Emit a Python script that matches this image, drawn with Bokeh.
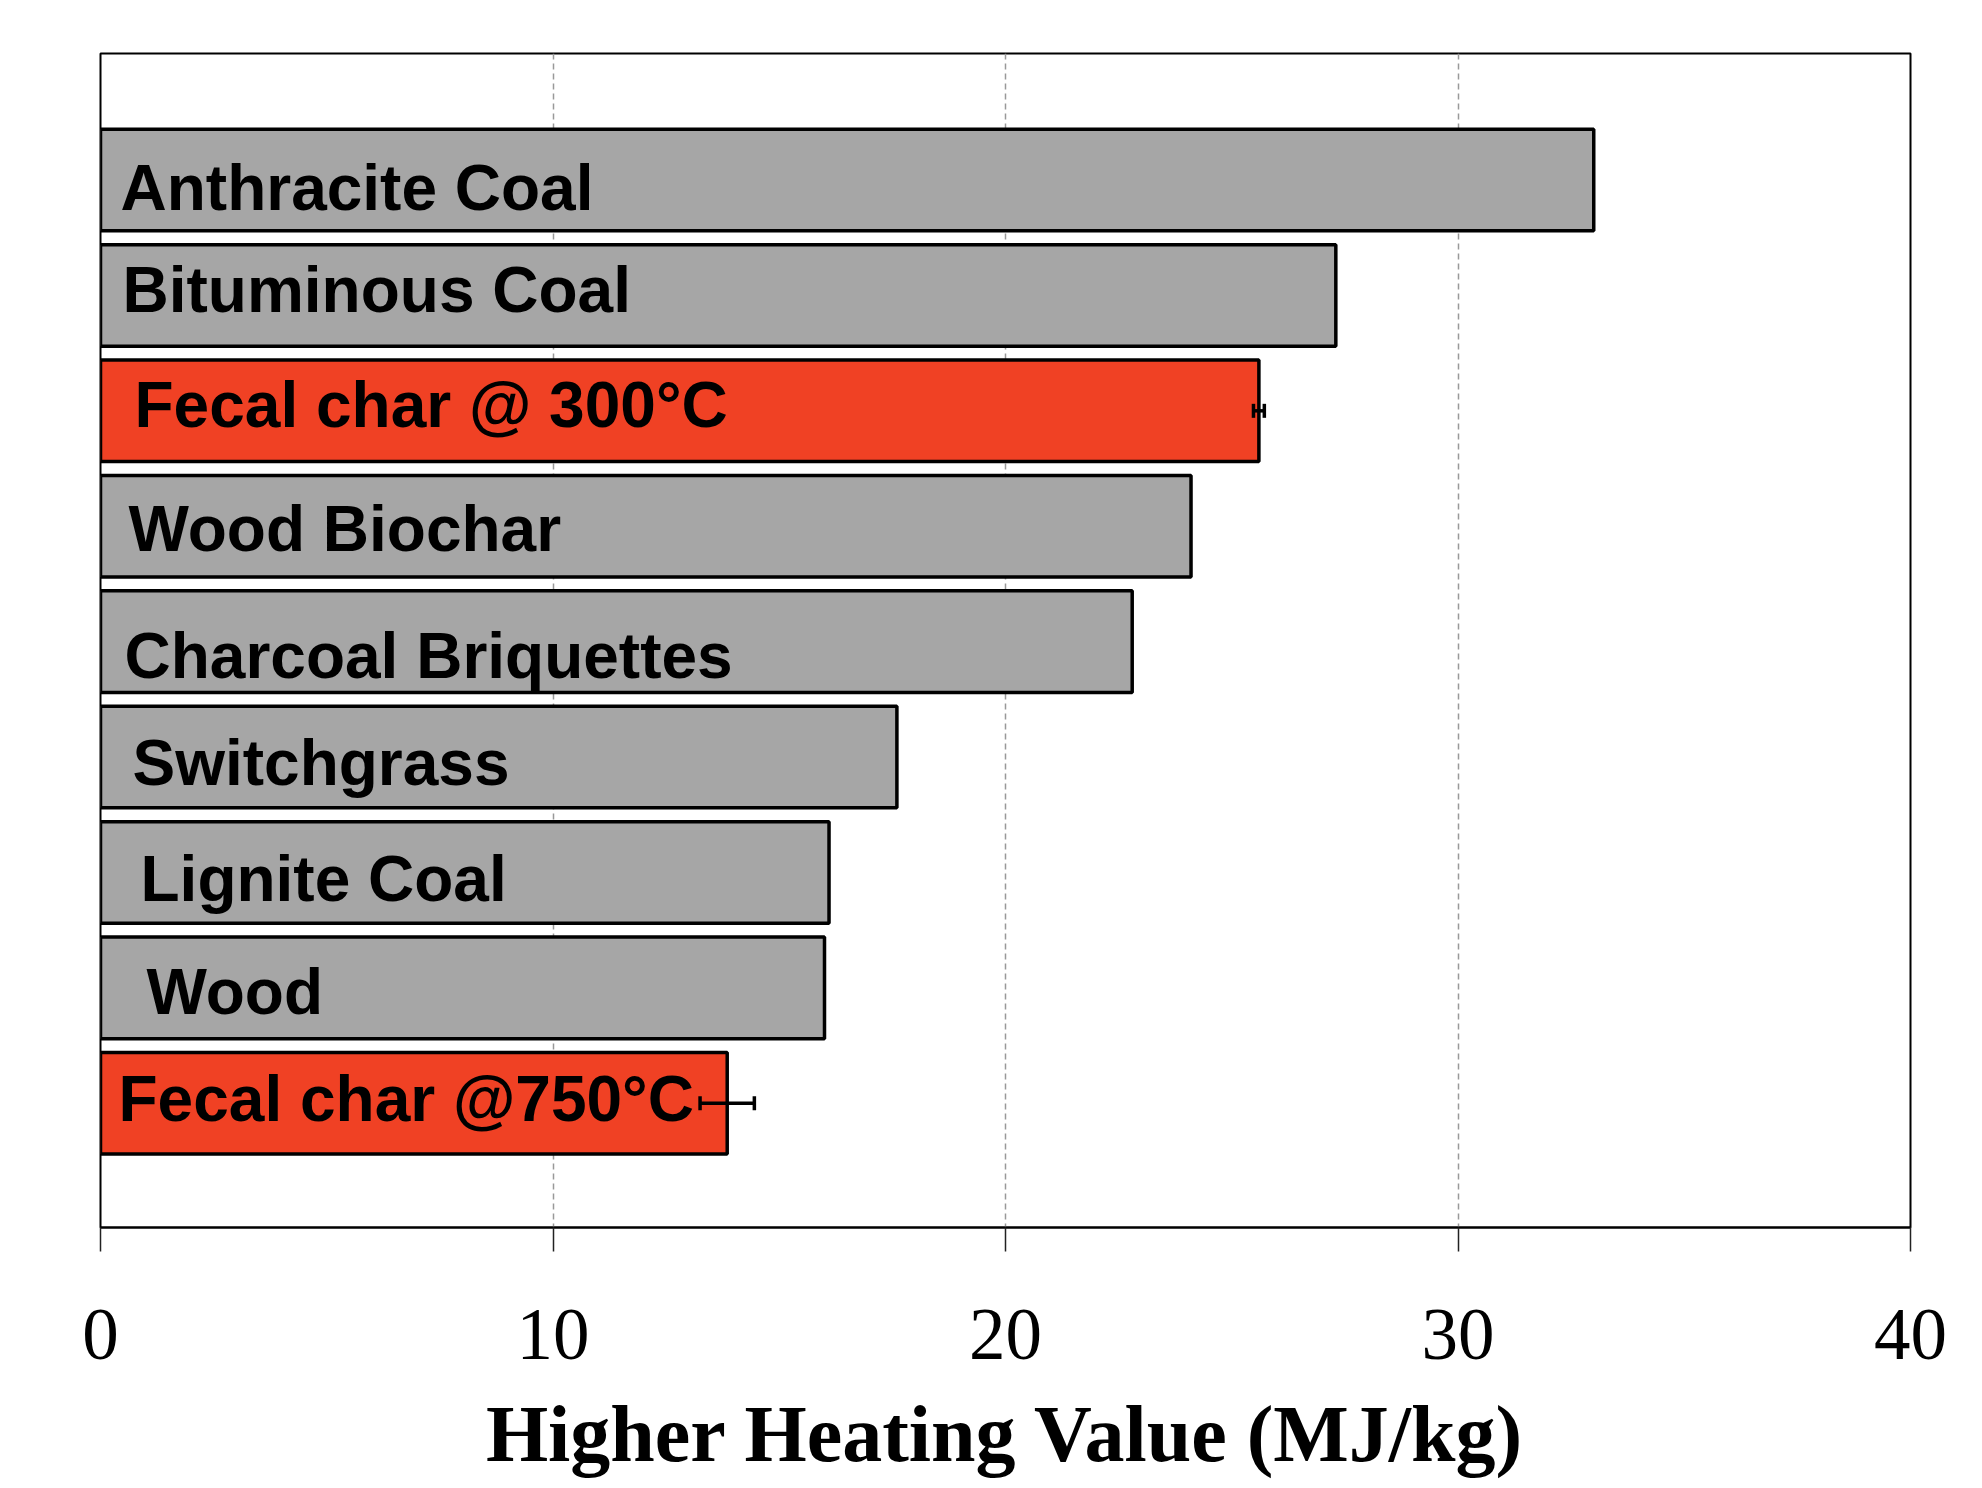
from bokeh.plotting import figure
from bokeh.models import ColumnDataSource, Range1d, FixedTicker, Whisker, TeeHead
from bokeh.core.properties import value
from bokeh.embed import file_html
from bokeh.resources import INLINE

# ---- data (top to bottom) ----
materials = ["Anthracite Coal", "Bituminous Coal", "Fecal char  @ 300\u00b0C", "Wood Biochar",
             "Charcoal Briquettes", "Switchgrass", "Lignite Coal", "Wood", "Fecal char  @750\u00b0C"]
hhv = [33.0, 27.3, 25.6, 24.1, 22.8, 17.6, 16.1, 16.0, 13.85]
is_fecal = [False, False, True, False, False, False, False, False, True]
hhv_err = [0, 0, 0.12, 0, 0, 0, 0, 0, 0.6]
x_ticks = [0, 10, 20, 30, 40]
x_title = "Higher Heating Value (MJ/kg)"

# ---- styling ----
GRAY = "#A6A6A6"
RED = "#F04124"
label_dx = [20, 22, 34, 28, 24, 32, 40, 46, 18]     # px from bar start
label_dy = [8, -5, -6, 3, 14, 6, 7, 4, -4]          # px shift of baseline

idx = list(range(len(materials)))
colors = [RED if f else GRAY for f in is_fecal]

src = ColumnDataSource(dict(y=idx, v=hhv, name=materials, color=colors,
                            dx=label_dx, dy=label_dy))

ei = [i for i in idx if hhv_err[i] > 0]
esrc = ColumnDataSource(dict(y=ei,
                             lower=[hhv[i] - hhv_err[i] for i in ei],
                             upper=[hhv[i] + hhv_err[i] for i in ei]))

p = figure(width=1974, height=1480, output_backend="svg", toolbar_location=None,
           x_range=Range1d(0, 40), y_range=Range1d(9.076, -1.096),
           min_border_left=100, min_border_right=64, min_border_top=53, min_border_bottom=253)

p.hbar(y="y", left=0, right="v", height=0.88, source=src,
       fill_color="color", line_color="black", line_width=3.5)

p.text(x=0, y="y", text="name", x_offset="dx", y_offset="dy", source=src,
       text_baseline="alphabetic", text_align="left",
       text_font=value("Liberation Sans"), text_font_style="bold",
       text_font_size="64px", text_color="black")

w = Whisker(source=esrc, base="y", lower="lower", upper="upper", dimension="width",
            line_color="black", line_width=3.5, level="annotation",
            upper_head=TeeHead(size=14, line_width=3.5, line_color="black"),
            lower_head=TeeHead(size=14, line_width=3.5, line_color="black"))
p.add_layout(w)

p.yaxis.visible = False
p.ygrid.visible = False
p.xgrid.grid_line_color = "#999999"
p.xgrid.grid_line_dash = "6 4"
p.xgrid.grid_line_width = 1.5

p.outline_line_color = "black"
p.outline_line_width = 2

ax = p.xaxis[0]
ax.ticker = FixedTicker(ticks=x_ticks)
ax.axis_line_color = "black"
ax.axis_line_width = 2
ax.major_tick_out = 24
ax.major_tick_in = 0
ax.major_tick_line_color = "#222222"
ax.major_tick_line_width = 1.5
ax.minor_tick_line_color = None
ax.major_label_text_font = "Liberation Serif"
ax.major_label_text_font_size = "73px"
ax.major_label_text_color = "black"
ax.major_label_standoff = 58
ax.axis_label = x_title
ax.axis_label_text_font = "Liberation Serif"
ax.axis_label_text_font_style = "bold"
ax.axis_label_text_font_size = "80px"
ax.axis_label_text_color = "black"
ax.axis_label_standoff = 28

p.background_fill_color = "white"
p.border_fill_color = "white"

open("out.html", "w").write(file_html(p, INLINE))
